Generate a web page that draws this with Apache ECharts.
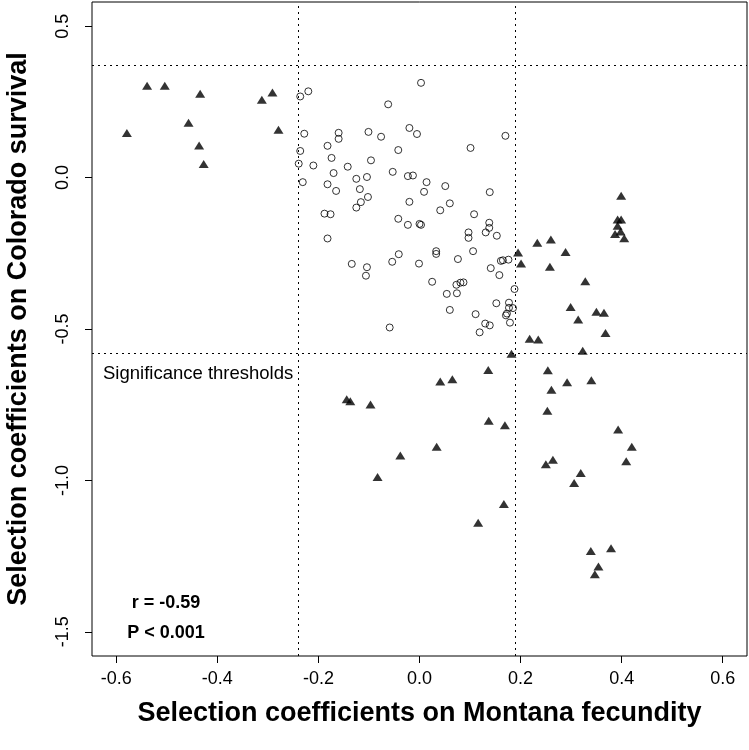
<!DOCTYPE html>
<html><head><meta charset="utf-8">
<script src="https://cdn.jsdelivr.net/npm/echarts@6/dist/echarts.min.js"></script>
<style>html,body{margin:0;padding:0;background:#fff}#c{width:749px;height:750px}</style>
</head><body><div id="c"></div>
<script>
// Tick labels
const xTicks = [-0.6, -0.4, -0.2, 0, 0.2, 0.4, 0.6];
const yTicks = [-1.5, -1, -0.5, 0, 0.5];
// Significance thresholds
const xThresholds = [-0.240, 0.191];
const yThresholds = [0.369, -0.578];
// Significant genes (filled triangles)
const triX = [-0.539,-0.504,-0.434,-0.312,-0.291,-0.457,-0.579,-0.279,-0.436,-0.427,
0.399,0.392,0.399,0.392,0.398,0.387,0.405,0.233,0.260,0.195,0.289,0.201,0.258,0.328,0.299,0.350,0.365,
0.314,0.368,0.218,0.235,0.323,0.182,0.136,0.254,0.292,0.340,0.261,0.041,0.065,-0.144,-0.137,-0.097,
0.137,0.169,0.253,0.393,0.420,0.409,0.250,0.264,0.319,0.306,0.034,-0.038,-0.083,0.167,0.116,0.339,0.379,0.354,0.347];
const triY = [0.303,0.303,0.277,0.257,0.281,0.181,0.147,0.158,0.106,0.045,
-0.060,-0.138,-0.138,-0.159,-0.178,-0.186,-0.200,-0.215,-0.204,-0.247,-0.246,-0.284,-0.294,-0.342,-0.427,-0.443,-0.446,
-0.469,-0.513,-0.532,-0.535,-0.572,-0.582,-0.635,-0.636,-0.676,-0.669,-0.701,-0.673,-0.666,-0.732,-0.739,-0.749,
-0.803,-0.818,-0.770,-0.832,-0.889,-0.937,-0.947,-0.932,-0.976,-1.009,-0.889,-0.918,-0.989,-1.078,-1.140,-1.233,-1.224,-1.284,-1.310];
// Non-significant genes (open circles)
const circX = [-0.236,-0.220,-0.228,-0.236,-0.239,-0.231,-0.062,-0.160,-0.160,-0.101,
-0.076,-0.042,-0.182,-0.174,-0.210,-0.096,-0.142,-0.170,-0.053,-0.182,
-0.125,-0.104,-0.165,-0.118,-0.102,-0.116,-0.125,0.003,-0.020,-0.005,
0.170,0.101,-0.023,-0.013,0.014,0.051,0.009,0.139,-0.020,0.060,
0.041,-0.188,-0.176,-0.042,-0.182,-0.134,-0.104,-0.106,-0.054,-0.041,
-0.059,-0.023,0.000,0.003,0.108,0.138,0.138,0.131,0.153,0.097,
0.097,0.033,0.033,-0.001,0.076,0.106,0.161,0.165,0.176,0.141,
0.158,0.025,0.073,0.081,0.087,0.054,0.074,0.188,0.152,0.177,
0.177,0.185,0.173,0.171,0.060,0.111,0.130,0.139,0.119,0.179];
const circY = [0.268,0.285,0.145,0.088,0.046,-0.015,0.242,0.148,0.128,0.151,
0.135,0.091,0.105,0.065,0.040,0.057,0.036,0.015,0.019,-0.022,
-0.004,0.002,-0.044,-0.038,-0.064,-0.081,-0.099,0.313,0.164,0.144,
0.138,0.098,0.005,0.007,-0.015,-0.028,-0.047,-0.048,-0.080,-0.085,
-0.108,-0.119,-0.121,-0.136,-0.201,-0.285,-0.296,-0.324,-0.278,-0.253,
-0.495,-0.156,-0.153,-0.156,-0.121,-0.149,-0.166,-0.181,-0.192,-0.181,
-0.199,-0.243,-0.252,-0.284,-0.269,-0.243,-0.275,-0.273,-0.271,-0.299,
-0.322,-0.344,-0.354,-0.347,-0.346,-0.384,-0.382,-0.368,-0.415,-0.413,
-0.430,-0.431,-0.449,-0.455,-0.437,-0.451,-0.482,-0.488,-0.511,-0.479];

const xTitle = 'Selection coefficients on Montana fecundity';
const yTitle = 'Selection coefficients on Colorado survival';
const FONT = "'Liberation Sans', Arial, Helvetica, sans-serif";

const chart = echarts.init(document.getElementById('c'), null, {renderer: 'canvas'});
const circData = circX.map((x, i) => [x, circY[i]]);
const triData = triX.map((x, i) => [x, triY[i]]);
const thrLines = xThresholds.map(v => ({xAxis: v})).concat(yThresholds.map(v => ({yAxis: v})));

chart.setOption({
  animation: false,
  backgroundColor: '#fff',
  grid: {left: 92, right: 2, top: 2, bottom: 94, containLabel: false, outerBoundsMode: 'none',
         show: true, borderColor: '#000', borderWidth: 1, backgroundColor: 'transparent'},
  xAxis: {
    type: 'value', min: -0.648, max: 0.648,
    splitLine: {show: false}, axisLine: {show: false, onZero: false},
    axisTick: {show: true, length: 7, customValues: xTicks, lineStyle: {color: '#000'}},
    axisLabel: {customValues: xTicks, formatter: v => v.toFixed(1), fontSize: 18, color: '#000', margin: 14, fontFamily: FONT},
    name: xTitle, nameLocation: 'middle', nameGap: 44,
    nameTextStyle: {fontSize: 27, fontWeight: 'bold', color: '#000', fontFamily: FONT}
  },
  yAxis: {
    type: 'value', min: -1.58, max: 0.58,
    splitLine: {show: false}, axisLine: {show: false, onZero: false},
    axisTick: {show: true, length: 7, customValues: yTicks, lineStyle: {color: '#000'}},
    axisLabel: {customValues: yTicks, formatter: v => v.toFixed(1), fontSize: 18, color: '#000', margin: 20, rotate: 90, fontFamily: FONT},
    name: yTitle, nameLocation: 'middle', nameGap: 60, nameRotate: 90,
    nameTextStyle: {fontSize: 27, fontWeight: 'bold', color: '#000', fontFamily: FONT}
  },
  series: [
    {
      type: 'scatter', data: circData, symbol: 'circle', symbolSize: 7,
      itemStyle: {color: 'rgba(255,255,255,0)', borderColor: '#000', borderWidth: 1},
      silent: true, z: 3
    },
    {
      type: 'scatter', data: triData, symbol: 'triangle', symbolSize: [10, 8],
      itemStyle: {color: '#000'}, silent: true, z: 4,
      markLine: {
        silent: true, symbol: 'none', animation: false,
        label: {show: false},
        lineStyle: {type: [2, 4], color: '#000', width: 1},
        data: thrLines
      }
    }
  ],
  graphic: [
    {type: 'text', left: 103, top: 364, style: {text: 'Significance thresholds', fill: '#000', font: '18.5px ' + FONT}},
    {type: 'text', x: 166, y: 603, style: {text: 'r = -0.59', fill: '#000', font: 'bold 18px ' + FONT, textAlign: 'center', textVerticalAlign: 'middle'}},
    {type: 'text', x: 166, y: 633, style: {text: 'P < 0.001', fill: '#000', font: 'bold 18px ' + FONT, textAlign: 'center', textVerticalAlign: 'middle'}}
  ]
});
</script></body></html>
